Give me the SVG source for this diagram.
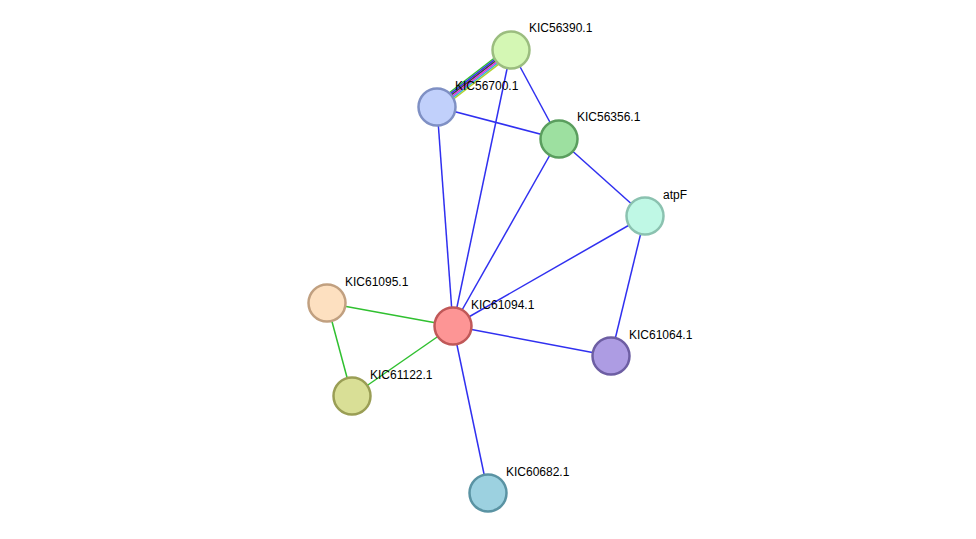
<svg xmlns="http://www.w3.org/2000/svg" width="976" height="539" viewBox="0 0 976 539">
<style>
.e{stroke-width:1.5;fill:none}
.b{stroke:#3030f0}
.g{stroke:#30c030}
circle{stroke-width:2.5}
text{font-family:"Liberation Sans",Arial,sans-serif;font-size:12px;fill:#000}
</style>
<rect width="976" height="539" fill="#fff"/>
<g id="connectors">
<line class="e" stroke="#30c030" x1="508.7" y1="47.0" x2="434.7" y2="104.0"/>
<line class="e" stroke="#3030f0" x1="509.6" y1="48.2" x2="435.6" y2="105.2"/>
<line class="e" stroke="#404040" x1="510.5" y1="49.4" x2="436.5" y2="106.4"/>
<line class="e" stroke="#e030e0" x1="511.5" y1="50.6" x2="437.5" y2="107.6"/>
<line class="e" stroke="#30b0e0" x1="512.4" y1="51.8" x2="438.4" y2="108.8"/>
<line class="e" stroke="#b0d030" x1="513.3" y1="53.0" x2="439.3" y2="110.0"/>
<line class="e b" x1="511" y1="50" x2="559" y2="139"/>
<line class="e b" x1="511" y1="50" x2="453" y2="326"/>
<line class="e b" x1="437" y1="107" x2="559" y2="139"/>
<line class="e b" x1="437" y1="107" x2="453" y2="326"/>
<line class="e b" x1="559" y1="139" x2="453" y2="326"/>
<line class="e b" x1="559" y1="139" x2="645" y2="216"/>
<line class="e b" x1="645" y1="216" x2="453" y2="326"/>
<line class="e b" x1="645" y1="216" x2="611" y2="356"/>
<line class="e b" x1="453" y1="326" x2="611" y2="356"/>
<line class="e b" x1="453" y1="326" x2="488" y2="493"/>
<line class="e g" x1="327" y1="303" x2="453" y2="326"/>
<line class="e g" x1="327" y1="303" x2="352" y2="396"/>
<line class="e g" x1="352" y1="396" x2="453" y2="326"/>
</g>
<g id="KIC56390.1"><circle cx="511" cy="50" r="18.5" fill="#d4f7b4" stroke="#9bbd7f"/><text x="529" y="32">KIC56390.1</text></g>
<g id="KIC56700.1"><circle cx="437" cy="107" r="18.5" fill="#c1d0fb" stroke="#7f90c4"/><text x="455" y="90">KIC56700.1</text></g>
<g id="KIC56356.1"><circle cx="559" cy="139" r="18.5" fill="#9de0a0" stroke="#5a9e5e"/><text x="577" y="121">KIC56356.1</text></g>
<g id="atpF"><circle cx="645" cy="216" r="18.5" fill="#bff8e5" stroke="#8bc2b0"/><text x="663" y="199">atpF</text></g>
<g id="KIC61095.1"><circle cx="327" cy="303" r="18.5" fill="#fde0c0" stroke="#c1a080"/><text x="345" y="286">KIC61095.1</text></g>
<g id="KIC61094.1"><circle cx="453" cy="326" r="18.5" fill="#fd9595" stroke="#c05858"/><text x="471" y="309">KIC61094.1</text></g>
<g id="KIC61064.1"><circle cx="611" cy="356" r="18.5" fill="#ad9ce3" stroke="#6d5ea3"/><text x="629" y="339">KIC61064.1</text></g>
<g id="KIC61122.1"><circle cx="352" cy="396" r="18.5" fill="#d9df96" stroke="#9a9e55"/><text x="370" y="379">KIC61122.1</text></g>
<g id="KIC60682.1"><circle cx="488" cy="493" r="18.5" fill="#9cd1e0" stroke="#5a93a3"/><text x="506" y="476">KIC60682.1</text></g>
</svg>
